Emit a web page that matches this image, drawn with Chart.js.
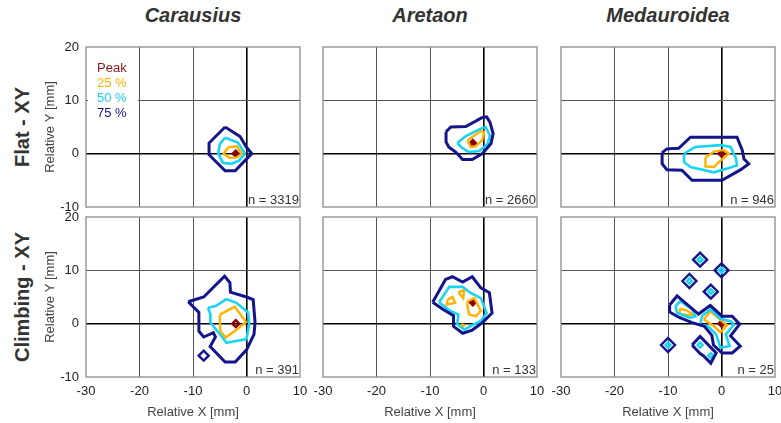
<!DOCTYPE html>
<html>
<head>
<meta charset="UTF-8">
<title>Contour plots</title>
<script src="https://cdn.jsdelivr.net/npm/chart.js@4.4.0/dist/chart.umd.min.js"></script>
<style>
  body { margin:0; background:#fff; overflow:hidden; font-family:"Liberation Sans", Arial, sans-serif; }
  #wrap { position:relative; width:781px; height:423px; overflow:hidden; }
  canvas { position:absolute; }
  .txt { position:absolute; white-space:nowrap; }
  .col { font-size:20px; font-weight:bold; font-style:italic; color:#333; width:200px; text-align:center; top:4px; line-height:22px; }
  .row { font-size:20px; font-weight:bold; color:#333; line-height:22px; transform:translate(-50%,-50%) rotate(-90deg); }
  #legend { position:absolute; left:88px; top:57px; width:50px; height:62px; background:#fff; z-index:5; }
  .leg { font-size:13px; line-height:15px; left:9px; }
  .n { font-size:13px; line-height:15px; color:#333; width:120px; text-align:right; }
</style>
</head>
<body>
<div id="wrap">
  <div class="txt col" style="left:93px">Carausius</div>
  <div class="txt col" style="left:330px">Aretaon</div>
  <div class="txt col" style="left:568px">Medauroidea</div>
  <div class="txt row" style="left:22px;top:127px">Flat - XY</div>
  <div class="txt row" style="left:22px;top:297px">Climbing - XY</div>
  <div id="legend">
    <div class="txt leg" style="top:3px;color:#8b1a1a">Peak</div>
    <div class="txt leg" style="top:18px;color:#ffb300">25 %</div>
    <div class="txt leg" style="top:33px;color:#19d3f3">50 %</div>
    <div class="txt leg" style="top:48px;color:#14148c">75 %</div>
  </div>
</div>

<script>
// Levels: 75 % (outer), 50 %, 25 %, peak. Coordinates in mm.
// Carausius - flat
const carFlat75 = [[-4,5],[-1.2,3.2],[0,1.2],[1,0],[-0.3,-1.3],[-2.1,-3.2],[-4,-3.2],[-7,-0.2],[-7,2],[-4,5]];
const carFlat50 = [[-4,3],[-1.6,2.1],[-0.3,0],[-1.4,-1.3],[-2.8,-1.9],[-4.4,-1.7],[-5.3,0],[-5,1.8],[-4,3]];
const carFlat25 = [[-3.4,1.2],[-1.8,1.4],[-0.9,0],[-1.8,-0.7],[-3.1,-0.8],[-4.3,0],[-3.4,1.2]];
const carFlatPeak = [[-2,0]];
// Aretaon - flat
const areFlat75 = [[-7,4.1],[-6.1,5],[-3.3,5.1],[-0.3,6.75],[0.6,6.9],[1.2,5.9],[1.8,3.75],[1.4,1.9],[-0.2,0],[-2.1,-1.1],[-3.9,-1.1],[-5.2,0.3],[-6.5,1.25],[-7,2.2],[-7,4.1]];
const areFlat50 = [[-4.9,2],[-3.3,3.3],[-0.5,4.7],[0.4,5],[1.2,3.4],[0.75,1.75],[-0.8,0.5],[-2.7,0.3],[-4.2,1.25],[-4.9,2]];
const areFlat25 = [[-3,2.5],[-0.5,4.25],[0.1,4.1],[-0.2,2.6],[-1.4,1.4],[-2.4,1.25],[-3,2.5]];
const areFlatPeak = [[-2,2]];
// Medauroidea - flat
const medFlat75 = [[-11.1,0.2],[-10.2,0.9],[-8,1],[-5.8,3.1],[2.9,3.1],[3.9,0.6],[4.2,-1],[5.1,-1.9],[3.6,-3],[0.1,-5],[-5.5,-5],[-7.4,-3.1],[-10.2,-3],[-11.1,-1.9],[-11.1,0.2]];
const medFlat50 = [[-7,0],[-4.9,1.25],[-0.2,1.6],[1.7,1.25],[2.7,-0.9],[2.9,-2.2],[1.4,-2.7],[-1.4,-3.5],[-5.8,-2.5],[-7,-1.6],[-7,0]];
const medFlat25 = [[-3,-0.7],[-1.4,0.4],[0.4,0.7],[1.4,0],[-0.5,-1.6],[-1.4,-2.5],[-2.9,-2.4],[-3,-0.7]];
const medFlatPeak = [[0,0]];
// Carausius - climbing
const carClimb75 = [[-10.9,4.1],[-8,5],[-4.1,8.9],[-3.1,7.7],[-3,5.9],[0,5],[1.25,4.5],[1.6,0.2],[1.4,-2],[0,-4.9],[-2.1,-7.2],[-4,-7.2],[-6.8,-4.3],[-5.8,-2.5],[-6.2,-1.7],[-8,-2.5],[-8.9,-1.4],[-8.9,2.1],[-10.9,4.1]];
const carClimb75b = [[-8,-6]];
const carClimb50 = [[-7.2,3],[-5.75,3.3],[-3.75,4.6],[-1.9,3.9],[0.3,2.1],[0.5,0],[0,-2.9],[-1.9,-3.25],[-3.75,-3.6],[-4.7,-2.3],[-6.75,0.2],[-6.75,1.75],[-7.2,3]];
const carClimb25 = [[-5,1.7],[-2.2,3.2],[-0.1,0.3],[-2,-1.25],[-3.9,-2.6],[-4.9,-1.4],[-5,1.7]];
const carClimbPeak = [[-2,0]];
// Aretaon - climbing
const areClimb75 = [[-9.5,4],[-7.1,8.3],[-5.8,8.8],[-3.9,7.8],[-2.1,8.8],[-0.5,6.7],[1.1,5.8],[1.6,2],[-0.2,0.2],[-2.1,-1.2],[-3.9,-1.8],[-5.6,-0.5],[-5.6,1.5],[-7.6,2.7],[-9.5,4]];
const areClimb50 = [[-8.3,4],[-6.4,6.9],[-3.9,6.9],[-2.5,5.8],[-0.5,4.8],[0.6,2],[-0.5,0.5],[-2.1,-0.3],[-3.6,-1.1],[-4.9,-0.1],[-4.7,1.7],[-6.4,2.5],[-8.3,4]];
const areClimb25a = [[-6.7,4.5],[-5.8,5],[-5.3,3.9],[-6.9,3.6],[-6.7,4.5]];
const areClimb25b = [[-4.7,5.9],[-3.6,6.3],[-3.8,4.8],[-4.7,5.9]];
const areClimb25c = [[-3,4.2],[-1.7,4.8],[-0.5,2.4],[-1.4,1.4],[-2.7,1.7],[-3,3.3],[-3,4.2]];
const areClimb25d = [[-4.2,-0.1],[-3.6,-0.3],[-3.9,-0.75],[-4.2,-0.1]];
const areClimbPeak = [[-2,4]];
// Medauroidea - climbing
const medClimb75a = [[-9.7,3.5],[-8.3,5.2],[-5.5,2.8],[-4.3,1.8],[-2.1,3.4],[0.1,1.4],[2,1.4],[3.4,-0.1],[1.7,-2.3],[3.5,-4.2],[2,-5.5],[0.1,-5.5],[-1.5,-4],[-1.8,-2.2],[-3.2,-0.5],[-5.5,0.2],[-8,1.2],[-9.7,2.2],[-9.7,3.5]];
const medClimb75b = [[-5.5,-4],[-4,-2.4],[-1,-5.5],[-2,-7.4],[-3.4,-6],[-4,-5.6],[-5.5,-4]];
const medClimb75dots = [[-4,12],[0,10],[-6,8],[-2,6],[-10,-4]];
const medClimb50a = [[-8.6,3.3],[-7.7,4.2],[-5.5,2.7],[-4.9,1.4],[-5.8,1.1],[-8.3,2],[-8.6,3.3]];
const medClimb50b = [[-3.6,1.5],[-2,2.7],[-0.2,0.9],[1.8,0.4],[2.3,-0.2],[0.8,-2],[1.5,-4.2],[-0.2,-4.5],[-1,-2],[-2.5,-0.5],[-4,-0.2],[-3.6,1.5]];
const medClimb50dots = [[-4,12],[0,10],[-6,8],[-2,6],[-10,-4],[-4,-4],[-2,-6]];
const medClimb25a = [[-7.8,2.8],[-6.5,2.5],[-5.3,1.7],[-6.5,1.6],[-7.8,2],[-7.8,2.8]];
const medClimb25b = [[-3.3,0.8],[-2.1,2.3],[-0.3,0.8],[1,-0.3],[-0.2,-1.6],[-1.5,-0.4],[-3.3,0.8]];
const medClimbPeak = [[0,0]];

const nLabels = ['n = 3319', 'n = 2660', 'n = 946', 'n = 391', 'n = 133', 'n = 25'];

const C75 = '#14148c', C50 = '#19d3f3', C25 = '#ffb300', CPK = '#8b0000';
const W75 = 3, W50 = 2.6, W25 = 2.4;

function ring(pts, color, w) {
  return { data: pts.map(p => ({x: p[0], y: p[1]})), showLine: true, borderColor: color,
           borderWidth: w, pointRadius: 0, fill: false, tension: 0 };
}
function dots(pts, color, r, filled) {
  return { data: pts.map(p => ({x: p[0], y: p[1]})), showLine: false, pointStyle: 'rectRot',
           pointRadius: r, pointBorderColor: color, pointBorderWidth: 2.4,
           pointBackgroundColor: filled ? color : 'rgba(0,0,0,0)' };
}

const panels = [
  [ring(carFlat75, C75, W75), ring(carFlat50, C50, W50), ring(carFlat25, C25, W25), dots(carFlatPeak, CPK, 3, true)],
  [ring(areFlat75, C75, W75), ring(areFlat50, C50, W50), ring(areFlat25, C25, W25), dots(areFlatPeak, CPK, 3, true)],
  [ring(medFlat75, C75, W75), ring(medFlat50, C50, W50), ring(medFlat25, C25, W25), dots(medFlatPeak, CPK, 3, true)],
  [ring(carClimb75, C75, W75), dots(carClimb75b, C75, 5, false), ring(carClimb50, C50, W50), ring(carClimb25, C25, W25), dots(carClimbPeak, CPK, 3.5, false)],
  [ring(areClimb75, C75, W75), ring(areClimb50, C50, W50), ring(areClimb25a, C25, W25), ring(areClimb25b, C25, W25),
   ring(areClimb25c, C25, W25), ring(areClimb25d, C25, W25), dots(areClimbPeak, CPK, 3, true)],
  [ring(medClimb75a, C75, W75), ring(medClimb75b, C75, W75), dots(medClimb75dots, C75, 7, false),
   ring(medClimb50a, C50, W50), ring(medClimb50b, C50, W50), dots(medClimb50dots, C50, 2.5, false),
   ring(medClimb25a, C25, W25), ring(medClimb25b, C25, W25), dots(medClimbPeak, CPK, 3, true)]
];

Chart.defaults.font.family = '"Liberation Sans", Arial, sans-serif';
Chart.defaults.font.size = 13;
Chart.defaults.color = '#222';

const frame = {
  id: 'frame',
  afterDatasetsDraw(chart) {
    const a = chart.chartArea, g = chart.ctx;
    g.save();
    g.strokeStyle = '#8a8a8a';
    g.lineWidth = 1.3;
    g.strokeRect(a.left, a.top, a.right - a.left, a.bottom - a.top);
    g.restore();
  }
};

const plotL = [86, 323, 561], plotT = [47, 217], plotW = 214, plotH = 160;
const padTop = 20, padRight = 18, yAxisW = 47;
const wrap = document.getElementById('wrap');

panels.forEach((sets, i) => {
  const col = i % 3, row = Math.floor(i / 3);
  const xH = row === 1 ? 47 : 18;
  const cv = document.createElement('canvas');
  cv.width = yAxisW + plotW + padRight;
  cv.height = padTop + plotH + xH;
  cv.style.left = (plotL[col] - yAxisW) + 'px';
  cv.style.top = (plotT[row] - padTop) + 'px';
  wrap.appendChild(cv);

  new Chart(cv, {
    type: 'scatter',
    data: { datasets: sets },
    options: {
      responsive: false, animation: false, events: [],
      layout: { padding: { top: padTop, right: padRight, left: 0, bottom: 0 } },
      plugins: { legend: { display: false }, tooltip: { enabled: false } },
      scales: {
        x: {
          type: 'linear', min: -30, max: 10,
          ticks: { stepSize: 10, display: row === 1, padding: 7, maxRotation: 0, autoSkip: false },
          grid: {
            drawTicks: false,
            color: c => c.tick.value === 0 ? '#000' : (c.tick.value === -30 || c.tick.value === 10 ? 'rgba(0,0,0,0)' : '#555'),
            lineWidth: c => c.tick.value === 0 ? 1.6 : 1
          },
          border: { display: false },
          title: { display: row === 1, text: 'Relative X [mm]', color: '#444', padding: { top: 4, bottom: 4 } },
          afterFit: s => { s.height = xH; }
        },
        y: {
          type: 'linear', min: -10, max: 20,
          ticks: { stepSize: 10, display: col === 0, padding: 7 },
          grid: {
            drawTicks: false,
            color: c => c.tick.value === 0 ? '#000' : (c.tick.value === -10 || c.tick.value === 20 ? 'rgba(0,0,0,0)' : '#555'),
            lineWidth: c => c.tick.value === 0 ? 1.6 : 1
          },
          border: { display: false },
          title: { display: col === 0, text: 'Relative Y [mm]', color: '#444', padding: { top: 4, bottom: 4 } },
          afterFit: s => { s.width = yAxisW; }
        }
      }
    },
    plugins: [frame]
  });

  const n = document.createElement('div');
  n.className = 'txt n';
  n.textContent = nLabels[i];
  n.style.left = (plotL[col] + plotW - 1 - 120) + 'px';
  n.style.top = (plotT[row] + plotH - 8 - 7.5) + 'px';
  wrap.appendChild(n);
});
</script>
</body>
</html>
